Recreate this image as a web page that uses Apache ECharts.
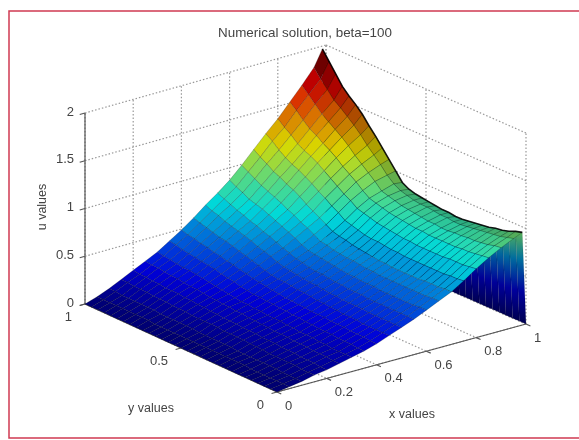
<!DOCTYPE html>
<html><head><meta charset="utf-8">
<style>html,body{margin:0;padding:0;background:#fff}#main{width:579px;height:440px;filter:blur(0.6px)}</style>
<script src="https://cdn.jsdelivr.net/npm/echarts@6/dist/echarts.min.js"></script>
</head><body><div id="main"></div>
<script>
// ---- data ----
var xValues = [0,.05,.1,.15,.2,.25,.3,.35,.4,.45,.5,.55,.6,.65,.7,.75,.8,.85,.9,.95,.985,1];
var yValues = [0,.0333,.0667,.1,.1333,.1667,.2,.2333,.2667,.3,.3333,.3667,.4,.4333,.4667,.5,.5333,.5667,.6,.6333,.6667,.7,.7333,.7667,.8,.8333,.8667,.9,.9333,.9667,1];
var uValues = [
[0,.02,.04,.07,.09,.12,.15,.18,.22,.27,.32,.37,.43,.49,.55,.63,.72,.80,.87,.93,.97,0],
[0,.02,.04,.07,.09,.12,.15,.18,.22,.27,.32,.37,.43,.49,.55,.62,.71,.79,.86,.91,.95,0],
[0,.02,.04,.07,.10,.13,.15,.19,.23,.27,.32,.37,.42,.48,.54,.62,.70,.78,.84,.89,.92,0],
[0,.02,.04,.08,.10,.13,.15,.19,.23,.27,.32,.37,.42,.48,.54,.61,.70,.77,.83,.88,.90,0],
[0,.02,.05,.08,.10,.13,.16,.19,.23,.27,.32,.37,.42,.48,.54,.61,.70,.77,.82,.87,.89,0],
[0,.02,.05,.08,.11,.14,.16,.20,.24,.28,.32,.37,.42,.48,.53,.61,.69,.76,.82,.86,.87,0],
[0,.02,.05,.08,.11,.14,.17,.20,.24,.28,.33,.37,.42,.48,.53,.61,.69,.76,.81,.85,.86,0],
[0,.03,.05,.08,.11,.14,.17,.20,.24,.28,.33,.37,.42,.48,.53,.61,.69,.76,.81,.84,.85,0],
[0,.03,.05,.09,.12,.15,.17,.21,.25,.29,.33,.38,.43,.48,.53,.61,.69,.76,.80,.83,.84,0],
[0,.03,.05,.09,.12,.15,.18,.21,.25,.29,.33,.38,.43,.48,.53,.61,.69,.76,.80,.83,.83,0],
[0,.03,.05,.09,.12,.15,.18,.22,.25,.30,.34,.38,.43,.49,.54,.62,.70,.77,.81,.84,.83,0],
[0,.03,.06,.10,.13,.16,.19,.22,.26,.30,.34,.39,.44,.49,.54,.62,.70,.77,.81,.84,.84,0],
[0,.03,.06,.10,.13,.16,.19,.23,.26,.31,.35,.39,.44,.50,.55,.63,.71,.78,.82,.85,.84,0],
[0,.03,.06,.10,.13,.17,.19,.23,.27,.32,.36,.40,.45,.51,.56,.64,.72,.79,.83,.86,.85,0],
[0,.03,.06,.10,.14,.17,.20,.24,.27,.32,.36,.41,.46,.51,.57,.64,.73,.80,.84,.86,.86,0],
[0,.03,.06,.11,.14,.18,.20,.24,.28,.33,.37,.41,.47,.52,.58,.65,.74,.81,.85,.87,.87,0],
[0,.03,.06,.11,.14,.18,.21,.25,.29,.34,.38,.42,.48,.53,.60,.67,.76,.83,.87,.89,.88,0],
[0,.03,.07,.11,.15,.19,.21,.25,.30,.34,.39,.44,.49,.55,.61,.69,.78,.85,.89,.91,.90,0],
[0,.03,.07,.11,.15,.19,.22,.26,.31,.35,.40,.45,.50,.56,.63,.71,.80,.87,.91,.95,.94,0],
[0,.03,.07,.11,.16,.20,.23,.27,.32,.37,.42,.48,.53,.60,.67,.76,.85,.92,.98,1.01,1.03,0],
[0,.03,.07,.12,.16,.20,.24,.29,.34,.39,.45,.50,.57,.64,.71,.80,.89,.98,1.04,1.09,1.12,0],
[0,.03,.07,.12,.17,.21,.25,.30,.35,.41,.47,.53,.60,.67,.75,.85,.94,1.03,1.10,1.16,1.21,0],
[0,.04,.07,.12,.17,.22,.26,.31,.37,.43,.49,.56,.63,.71,.79,.89,.99,1.08,1.16,1.23,1.30,0],
[0,.04,.08,.13,.18,.22,.27,.33,.38,.45,.52,.58,.66,.74,.84,.94,1.04,1.14,1.23,1.31,1.38,0],
[0,.04,.08,.13,.18,.23,.28,.34,.40,.47,.54,.61,.69,.78,.88,.98,1.09,1.19,1.29,1.38,1.47,0],
[0,.04,.08,.13,.18,.24,.29,.35,.41,.49,.56,.63,.72,.81,.91,1.02,1.13,1.23,1.34,1.44,1.54,0],
[0,.04,.08,.14,.19,.24,.29,.36,.43,.50,.58,.66,.74,.84,.95,1.05,1.16,1.28,1.39,1.50,1.60,0],
[0,.04,.08,.14,.19,.25,.30,.37,.44,.52,.60,.68,.76,.87,.98,1.09,1.20,1.32,1.44,1.55,1.67,0],
[0,.04,.08,.14,.20,.26,.31,.38,.46,.54,.63,.71,.80,.91,1.03,1.14,1.26,1.38,1.51,1.63,1.77,0],
[0,.04,.09,.15,.20,.26,.32,.40,.47,.56,.65,.74,.83,.95,1.07,1.20,1.31,1.45,1.58,1.71,1.87,0],
[0,.04,.09,.15,.21,.27,.33,.41,.49,.58,.68,.77,.87,.99,1.12,1.25,1.37,1.51,1.65,1.80,1.97,0]
];
var xTicks = [0,.2,.4,.6,.8,1];
var yTicks = [0,.5,1];
var uTicks = [0,.5,1,1.5,2];
var xTickLabels = ['0','0.2','0.4','0.6','0.8','1'];
var yTickLabels = ['0','0.5','1'];
var uTickLabels = ['0','0.5','1','1.5','2'];
var titleText = 'Numerical solution, beta=100';
var xName = 'x values', yName = 'y values', uName = 'u values';

// ---- view of the 3D box, onto a hidden pixel-scaled cartesian system ----
var view = {ox:277, oy:392, xx:249, xy:-68, yx:-192, yy:-88, twist:-8, uy:-95.5};
function project(x,y,u){
  return [view.ox + x*view.xx + y*view.yx + x*y*view.twist,
          view.oy + x*view.xy + y*view.yy + u*view.uy];
}
var uMax = 2, colorMax = 1.9;
function clamp(v){return Math.max(0,Math.min(1,v));}
function jet(u,shade){
  var v = clamp(u/colorMax), s = shade===undefined?1:shade;
  var r = clamp(Math.min(4*v-1.5,-4*v+4.5)), g = clamp(Math.min(4*v-.5,-4*v+3.5)), b = clamp(Math.min(4*v+.5,-4*v+2.5));
  return 'rgb('+Math.round(r*255*s)+','+Math.round(g*255*s)+','+Math.round(b*255*s)+')';
}
var nx = xValues.length, ny = yValues.length;

// facets, back to front
var wallCells = [], surfaceCells = [];
for (var j=ny-2;j>=0;j--) wallCells.push([nx-2,j]);
for (var j2=ny-2;j2>=0;j2--) for (var i2=nx-3;i2>=0;i2--) surfaceCells.push([i2,j2]);

function quadPoints(api,i,j){
  return [[i,j],[i+1,j],[i+1,j+1],[i,j+1]].map(function(p){
    return api.coord(project(xValues[p[0]],yValues[p[1]],uValues[p[1]][p[0]]));
  });
}
// dotted grid and solid axes as 3D segments built from the ticks
var gridSegs = [];
uTicks.forEach(function(u){ gridSegs.push([[0,1,u],[1,1,u]]); gridSegs.push([[1,1,u],[1,0,u]]); });
xTicks.forEach(function(x){ gridSegs.push([[x,1,0],[x,1,uMax]]); gridSegs.push([[x,1,0],[x,0,0]]); });
yTicks.forEach(function(y){ gridSegs.push([[1,y,0],[1,y,uMax]]); gridSegs.push([[0,y,0],[1,y,0]]); });
var tickLen = .022;
var axisSegs = [[[0,0,0],[1,0,0]],[[0,0,0],[0,1,0]],[[0,1,0],[0,1,uMax]]];
xTicks.forEach(function(x){ axisSegs.push([[x,0,0],[x,-tickLen,0]]); });
yTicks.forEach(function(y){ axisSegs.push([[0,y,0],[-tickLen,y,0]]); });
uTicks.forEach(function(u){ axisSegs.push([[0,1,u],[-tickLen,1,u]]); });
var labels = [];
xTicks.forEach(function(x,k){ labels.push({p:[x,0,0],t:xTickLabels[k],dx:8,dy:14,a:'left'}); });
yTicks.forEach(function(y,k){ labels.push({p:[0,y,0],t:yTickLabels[k],dx:-13,dy:13,a:'right'}); });
uTicks.forEach(function(u,k){ labels.push({p:[0,1,u],t:uTickLabels[k],dx:-11,dy:-1,a:'right'}); });

function segSeries(segs,style){
  return {type:'custom',coordinateSystem:'cartesian2d',silent:true,animation:false,clip:false,
    data:segs.map(function(s,k){return [k];}),
    renderItem:function(p,api){
      var s = segs[api.value(0)];
      var a = api.coord(project.apply(null,s[0])), b = api.coord(project.apply(null,s[1]));
      return {type:'line',shape:{x1:a[0],y1:a[1],x2:b[0],y2:b[1]},style:style};
    }};
}
var option = {
  animation:false,
  backgroundColor:'#fff',
  title:{text:titleText,left:300,top:22,textAlign:'center',
    textStyle:{fontFamily:'Liberation Sans',fontSize:13.4,fontWeight:'normal',color:'#444'}},
  grid:{left:0,right:0,top:0,bottom:0},
  xAxis:{type:'value',min:0,max:579,show:false},
  yAxis:{type:'value',min:0,max:440,inverse:true,show:false},
  graphic:[
    {type:'rect',shape:{x:9,y:11,width:620,height:427},style:{fill:'none',stroke:'#cf3a52',lineWidth:1.5},silent:true},
    {type:'text',x:151,y:409,style:{text:yName,fontFamily:'Liberation Sans',fontSize:12.5,fill:'#444',align:'center',verticalAlign:'middle'},silent:true},
    {type:'text',x:412,y:415,style:{text:xName,fontFamily:'Liberation Sans',fontSize:12.5,fill:'#444',align:'center',verticalAlign:'middle'},silent:true},
    {type:'text',x:43,y:207,rotation:Math.PI/2,style:{text:uName,fontFamily:'Liberation Sans',fontSize:12.5,fill:'#444',align:'center',verticalAlign:'middle'},silent:true}
  ],
  series:[
    segSeries(gridSegs,{stroke:'#999',lineWidth:1.2,lineDash:[1.5,2]}),
    segSeries(axisSegs,{stroke:'#555',lineWidth:1.2}),
    {type:'custom',coordinateSystem:'cartesian2d',silent:true,animation:false,clip:false,data:wallCells,
      renderItem:function(p,api){
        var i=api.value(0), j=api.value(1), top=(uValues[j][i]+uValues[j+1][i])/2;
        var s=.62;
        return {type:'polygon',shape:{points:quadPoints(api,i,j)},style:{
          fill:new echarts.graphic.LinearGradient(0,0,0,1,[
            {offset:0,color:jet(top,.7)},{offset:.3,color:jet(top*.6,s)},{offset:.65,color:jet(top*.25,s)},{offset:1,color:jet(0,s)}]),
          stroke:'rgba(0,0,0,.2)',lineWidth:.5}};
      }},
    {type:'custom',coordinateSystem:'cartesian2d',silent:true,animation:false,clip:false,data:surfaceCells,progressive:0,
      renderItem:function(p,api){
        var i=api.value(0), j=api.value(1);
        var mean=(uValues[j][i]+uValues[j][i+1]+uValues[j+1][i]+uValues[j+1][i+1])/4;
        var shade = i===nx-3 ? .68 : (i===nx-4 ? .78 : .85);
        return {type:'polygon',shape:{points:quadPoints(api,i,j)},style:{fill:jet(mean,shade),stroke:'rgba(0,0,0,.4)',lineWidth:.5}};
      }},
    {type:'custom',coordinateSystem:'cartesian2d',silent:true,animation:false,clip:false,data:[[0]],
      renderItem:function(p,api){
        var pts=yValues.map(function(y,j){return api.coord(project(xValues[nx-2],y,uValues[j][nx-2]));});
        return {type:'polyline',shape:{points:pts},style:{fill:'none',stroke:'rgba(0,0,0,.85)',lineWidth:1.6}};
      }},
    {type:'custom',coordinateSystem:'cartesian2d',silent:true,animation:false,clip:false,
      data:labels.map(function(l,k){return [k];}),
      renderItem:function(p,api){
        var l=labels[api.value(0)], c=api.coord(project.apply(null,l.p));
        return {type:'text',x:c[0]+l.dx,y:c[1]+l.dy,style:{text:l.t,fontFamily:'Liberation Sans',fontSize:13,fill:'#444',align:l.a,verticalAlign:'middle'}};
      }}
  ]
};
var chart = echarts.init(document.getElementById('main'),null,{renderer:'canvas'});
chart.setOption(option);
</script></body></html>
